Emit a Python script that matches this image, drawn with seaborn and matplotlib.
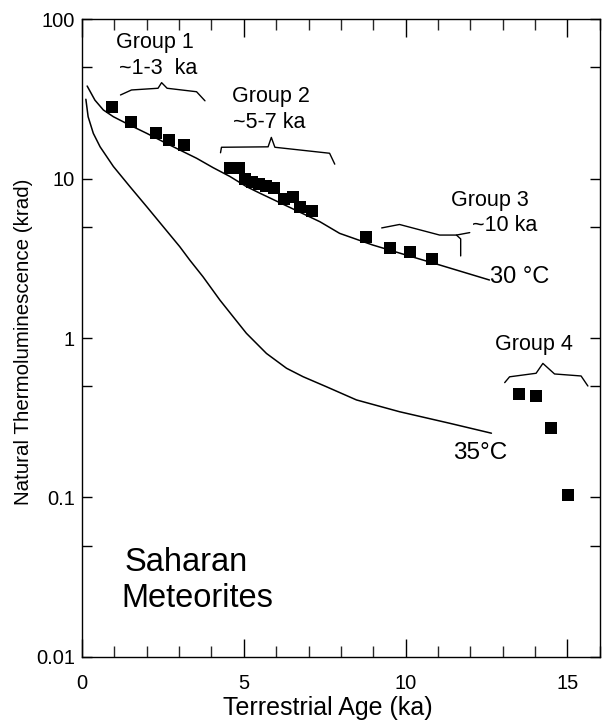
import numpy as np
import pandas as pd
import matplotlib
matplotlib.use("Agg")
import matplotlib.pyplot as plt
from matplotlib.ticker import FixedLocator, FuncFormatter
import seaborn as sns

# Meteorite measurements (terrestrial age in ka, natural TL in krad)
group_age = [0.92, 1.53, 2.28, 2.70, 3.16,
             4.57, 4.85, 5.03, 5.25, 5.46, 5.68, 5.93, 6.23, 6.51, 6.73, 7.10,
             8.79, 9.51, 10.12, 10.82,
             13.49, 14.04, 14.50, 15.03]
group_tl = [28.2, 22.7, 19.4, 17.4, 16.2,
            11.6, 11.6, 9.9, 9.5, 9.2, 9.0, 8.7, 7.4, 7.7, 6.6, 6.25,
            4.28, 3.65, 3.48, 3.11,
            0.446, 0.432, 0.272, 0.103]
group_id = ["1"] * 5 + ["2"] * 11 + ["3"] * 4 + ["4"] * 4

# Model decay curves for two storage temperatures
curve30_age = [0.16, 0.40, 0.66, 0.97, 1.48, 2.00, 2.51, 3.02, 3.54, 4.05,
               4.57, 5.08, 5.49, 7.35, 7.96, 8.98, 10.02, 11.05, 12.59]
curve30_tl = [38.0, 31.0, 26.9, 24.4, 21.6, 19.2, 17.0, 15.1, 13.4, 11.7,
              10.3, 8.9, 8.1, 5.36, 4.53, 3.83, 3.31, 2.87, 2.31]
curve35_age = [0.12, 0.19, 0.35, 0.56, 0.97, 1.48, 2.00, 2.51, 3.02, 3.33,
               3.74, 4.26, 4.67, 5.08, 5.70, 6.32, 6.83, 7.55, 8.48, 9.81,
               11.36, 12.65]
curve35_tl = [31.4, 24.4, 19.2, 15.8, 11.9, 8.9, 6.66, 4.99, 3.74, 3.08,
              2.42, 1.73, 1.36, 1.07, 0.80, 0.646, 0.572, 0.495, 0.409, 0.345,
              0.292, 0.253]

# Braces that mark each age group
brace1_x = [1.19, 1.53, 2.35, 2.46, 2.63, 3.54, 3.80]
brace1_y = [33.4, 35.9, 36.8, 39.9, 36.8, 35.0, 30.7]
brace2_x = [4.28, 4.31, 5.75, 5.85, 5.96, 7.65, 7.81]
brace2_y = [14.5, 15.7, 15.8, 18.1, 15.7, 14.4, 12.3]
brace3_x = [9.26, 9.81, 11.05, 11.57, 11.98]
brace3_y = [4.90, 5.15, 4.42, 4.42, 4.58]
brace3_stem_x = [11.57, 11.70, 11.70]
brace3_stem_y = [4.42, 4.18, 3.27]
brace4_x = [13.06, 13.21, 14.03, 14.24, 14.60, 15.42, 15.63]
brace4_y = [0.525, 0.571, 0.601, 0.693, 0.595, 0.578, 0.500]

y_major = [0.01, 0.1, 1, 10, 100]
y_minor = [0.05, 0.5, 5, 50]
y_labels = ["0.01", "0.1", "1", "10", "100"]

sns.set_theme(style="ticks")
plt.rcParams["font.family"] = ["Liberation Sans", "DejaVu Sans"]
plt.rcParams["axes.linewidth"] = 1.0

fig = plt.figure(figsize=(6.05, 7.23), dpi=100)
ax = fig.add_axes([0.1355, 0.0913, 0.856, 0.8824])

points = pd.DataFrame({"age": group_age, "tl": group_tl, "group": group_id})
c30 = pd.DataFrame({"age": curve30_age, "tl": curve30_tl})
c35 = pd.DataFrame({"age": curve35_age, "tl": curve35_tl})

sns.lineplot(data=c30, x="age", y="tl", ax=ax, color="black", lw=1.1,
             sort=False, estimator=None)
sns.lineplot(data=c35, x="age", y="tl", ax=ax, color="black", lw=1.1,
             sort=False, estimator=None)
sns.scatterplot(data=points, x="age", y="tl", ax=ax, marker="s", s=80,
                color="black", linewidth=0, zorder=5, legend=False)

for bx, by in [(brace1_x, brace1_y), (brace2_x, brace2_y),
               (brace3_x, brace3_y), (brace3_stem_x, brace3_stem_y),
               (brace4_x, brace4_y)]:
    ax.plot(bx, by, color="black", lw=1.0)

ax.set_yscale("log")
ax.set_xlim(0, 16)
ax.set_ylim(0.01, 100)

ax.xaxis.set_major_locator(FixedLocator([0, 5, 10, 15]))
ax.xaxis.set_minor_locator(FixedLocator(list(range(0, 17))))
ax.yaxis.set_major_locator(FixedLocator(y_major))
ax.yaxis.set_major_formatter(FuncFormatter(lambda v, p: y_labels[y_major.index(v)] if v in y_major else ""))
ax.yaxis.set_minor_locator(FixedLocator(y_minor))
ax.yaxis.set_minor_formatter(FuncFormatter(lambda v, p: ""))

ax.tick_params(axis="x", which="major", direction="in", length=13, width=1.0,
               top=True, bottom=True, labelsize=14.5, pad=12, colors="black")
ax.tick_params(axis="x", which="minor", direction="in", length=8, width=1.0,
               top=True, bottom=True)
ax.tick_params(axis="y", which="both", direction="in", length=7.5, width=1.0,
               left=True, right=True, labelsize=14.5, pad=5, colors="black")

ax.set_xlabel("Terrestrial Age (ka)", fontsize=18, color="black")
ax.set_ylabel("Natural Thermoluminescence (krad)", fontsize=14.8, color="black")
ax.xaxis.set_label_coords(0.475, -0.061)
ax.yaxis.set_label_coords(-0.095, 0.494)

for sp in ax.spines.values():
    sp.set_color("black")

txt = dict(ha="center", va="center", color="black")
ax.text(2.25, 71.7, "Group 1", fontsize=15.5, **txt)
ax.text(2.35, 49.3, "~1-3  ka", fontsize=15.5, **txt)
ax.text(5.83, 32.9, "Group 2", fontsize=15.5, **txt)
ax.text(5.77, 22.3, "~5-7 ka", fontsize=15.5, **txt)
ax.text(12.59, 7.33, "Group 3", fontsize=15.5, **txt)
ax.text(13.06, 5.04, "~10 ka", fontsize=15.5, **txt)
ax.text(13.95, 0.916, "Group 4", fontsize=15.5, **txt)
ax.text(12.6, 2.41, "30 °C", fontsize=17, ha="left", va="center", color="black")
ax.text(11.45, 0.19, "35°C", fontsize=17.5, ha="left", va="center", color="black")
ax.text(3.21, 0.0394, "Saharan", fontsize=23.5, **txt)
ax.text(3.55, 0.0234, "Meteorites", fontsize=23.5, **txt)

fig.savefig("out.png", dpi=100)
